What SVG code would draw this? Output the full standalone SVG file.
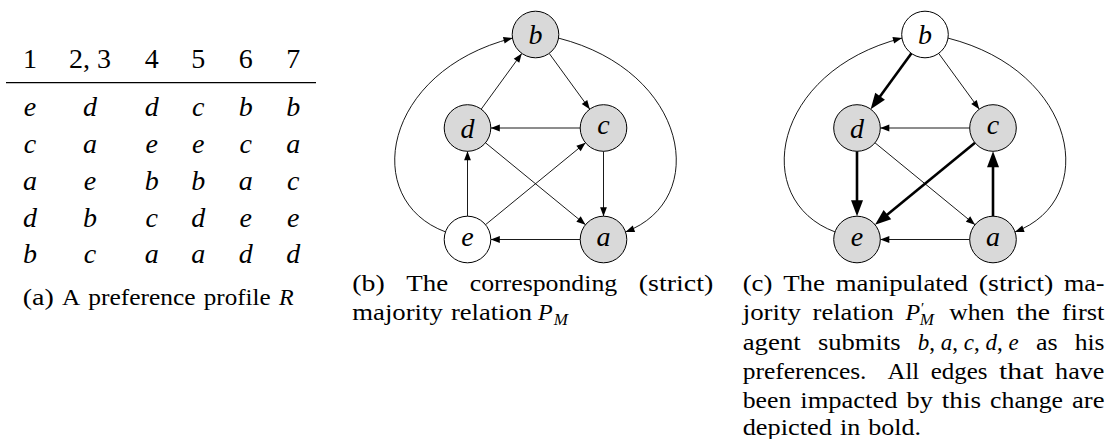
<svg xmlns="http://www.w3.org/2000/svg" width="1106" height="439" viewBox="0 0 1106 439">
<style>
.t{font-family:"Liberation Serif",serif;font-size:24px;fill:#000}
.m{font-style:italic}
.tab{font-family:"Liberation Serif",serif;font-size:28px;text-anchor:middle;fill:#000}
.nc{stroke:#000;stroke-width:1}
.g{fill:#d9d9d9}
.w{fill:#fff}
.lbl{font-family:"Liberation Serif",serif;font-style:italic;font-size:28px;text-anchor:middle;fill:#000}
.e{fill:none;stroke:#000;stroke-width:0.9;marker-end:url(#ah)}
.eb{fill:none;stroke:#000;stroke-width:2.6;marker-end:url(#ahb)}
</style>
<defs>
<marker id="ah" markerUnits="userSpaceOnUse" orient="auto" refX="0" refY="0" markerWidth="20" markerHeight="20" overflow="visible"><path d="M-9,-3.4 L0,0 L-9,3.4 z" fill="#000"/></marker>
<marker id="ahb" markerUnits="userSpaceOnUse" orient="auto" refX="0" refY="0" markerWidth="30" markerHeight="30" overflow="visible"><path d="M-11,-6 L5,0 L-11,6 z" fill="#000"/></marker>
</defs>

<g id="table">
<g class="tab">
<text x="30" y="68.3">1</text><text x="90" y="68.3">2, 3</text><text x="151.7" y="68.3">4</text><text x="198.3" y="68.3">5</text><text x="245.7" y="68.3">6</text><text x="293.3" y="68.3">7</text>
</g>
<line x1="6" y1="82.7" x2="316" y2="82.7" stroke="#000" stroke-width="1.3"/>
<g class="tab m">
<text x="30" y="116">e</text><text x="90" y="116">d</text><text x="151.7" y="116">d</text><text x="198.3" y="116">c</text><text x="245.7" y="116">b</text><text x="293.3" y="116">b</text>
<text x="30" y="153">c</text><text x="90" y="153">a</text><text x="151.7" y="153">e</text><text x="198.3" y="153">e</text><text x="245.7" y="153">c</text><text x="293.3" y="153">a</text>
<text x="30" y="190">a</text><text x="90" y="190">e</text><text x="151.7" y="190">b</text><text x="198.3" y="190">b</text><text x="245.7" y="190">a</text><text x="293.3" y="190">c</text>
<text x="30" y="226.7">d</text><text x="90" y="226.7">b</text><text x="151.7" y="226.7">c</text><text x="198.3" y="226.7">d</text><text x="245.7" y="226.7">e</text><text x="293.3" y="226.7">e</text>
<text x="30" y="262.7">b</text><text x="90" y="262.7">c</text><text x="151.7" y="262.7">a</text><text x="198.3" y="262.7">a</text><text x="245.7" y="262.7">d</text><text x="293.3" y="262.7">d</text>
</g>
</g>

<g id="caption-a" class="t">
<text x="22.7" y="305" textLength="31.1" lengthAdjust="spacingAndGlyphs">(a)</text>
<text x="61.9" y="305" textLength="18.2" lengthAdjust="spacingAndGlyphs">A</text>
<text x="88.2" y="305" textLength="107.5" lengthAdjust="spacingAndGlyphs">preference</text>
<text x="203.8" y="305" textLength="66.9" lengthAdjust="spacingAndGlyphs">profile</text>
<text x="279" y="305" class="m">R</text>
</g>

<!-- Graph (b) -->
<g id="edges-b">
<path class="e" d="M445.5,231.9 C360,200 382.5,71.1 512.5,38.1"/>
<path class="e" d="M558.5,38.1 C688.5,71.1 711,200 625.5,231.9"/>
<path class="e" d="M481.2,109.2 L521.8,53.4"/>
<path class="e" d="M549.2,53.4 L589.8,109.2"/>
<path class="e" d="M580.2,128 L490.8,128"/>
<path class="e" d="M603.5,151.3 L603.5,216.2"/>
<path class="e" d="M485.5,142.8 L585.5,224.7"/>
<path class="e" d="M485.5,224.7 L585.5,142.8"/>
<path class="e" d="M467.5,216.2 L467.5,151.3"/>
<path class="e" d="M580.2,239.5 L490.8,239.5"/>
</g>
<g id="b-b"><circle class="nc g" cx="535.5" cy="34.5" r="23.3"/><text class="lbl" x="535.5" y="44">b</text></g>
<g id="b-d"><circle class="nc g" cx="467.5" cy="128" r="23.3"/><text class="lbl" x="467.5" y="137.5">d</text></g>
<g id="b-c"><circle class="nc g" cx="603.5" cy="128" r="23.3"/><text class="lbl" x="603.5" y="134">c</text></g>
<g id="b-e"><circle class="nc w" cx="467.5" cy="239.5" r="23.3"/><text class="lbl" x="467.5" y="245.5">e</text></g>
<g id="b-a"><circle class="nc g" cx="603.5" cy="239.5" r="23.3"/><text class="lbl" x="603.5" y="245.5">a</text></g>

<g id="caption-b" class="t">
<text x="352.3" y="291" textLength="32.4" lengthAdjust="spacingAndGlyphs">(b)</text>
<text x="406.3" y="291" textLength="41.8" lengthAdjust="spacingAndGlyphs">The</text>
<text x="469.7" y="291" textLength="147.5" lengthAdjust="spacingAndGlyphs">corresponding</text>
<text x="638.8" y="291" textLength="74.5" lengthAdjust="spacingAndGlyphs">(strict)</text>
<text x="352.3" y="320.3" textLength="90.5" lengthAdjust="spacingAndGlyphs">majority</text>
<text x="450.9" y="320.3" textLength="81.1" lengthAdjust="spacingAndGlyphs">relation</text>
<text x="538" y="320.3"><tspan class="m">P</tspan><tspan class="m" font-size="17" dx="1" dy="4.5">M</tspan></text>
</g>

<!-- Graph (c) -->
<g id="edges-c">
<path class="e" d="M835,231.9 C749.5,200 772,71.1 902,38.1"/>
<path class="e" d="M948,38.1 C1078,71.1 1100.5,200 1015,231.9"/>
<path class="eb" d="M911.3,53.4 L873.6,105.2"/>
<path class="e" d="M938.7,53.4 L979.3,109.2"/>
<path class="e" d="M969.7,128 L880.3,128"/>
<path class="eb" d="M857,151.3 L857,211.2"/>
<path class="eb" d="M975,142.8 L878.9,221.5"/>
<path class="eb" d="M993,216.2 L993,156.3"/>
<path class="e" d="M875,142.8 L975,224.7"/>
<path class="e" d="M969.7,239.5 L880.3,239.5"/>
</g>
<g id="c-b"><circle class="nc w" cx="925" cy="34.5" r="23.3"/><text class="lbl" x="925" y="44">b</text></g>
<g id="c-d"><circle class="nc g" cx="857" cy="128" r="23.3"/><text class="lbl" x="857" y="137.5">d</text></g>
<g id="c-c"><circle class="nc g" cx="993" cy="128" r="23.3"/><text class="lbl" x="993" y="134">c</text></g>
<g id="c-e"><circle class="nc g" cx="857" cy="239.5" r="23.3"/><text class="lbl" x="857" y="245.5">e</text></g>
<g id="c-a"><circle class="nc g" cx="993" cy="239.5" r="23.3"/><text class="lbl" x="993" y="245.5">a</text></g>

<g id="caption-c" class="t">
<text x="742.7" y="291" textLength="29.7" lengthAdjust="spacingAndGlyphs">(c)</text>
<text x="783.2" y="291" textLength="41.8" lengthAdjust="spacingAndGlyphs">The</text>
<text x="835.7" y="291" textLength="132.3" lengthAdjust="spacingAndGlyphs">manipulated</text>
<text x="978.8" y="291" textLength="74.5" lengthAdjust="spacingAndGlyphs">(strict)</text>
<text x="1064" y="291" textLength="40.5" lengthAdjust="spacingAndGlyphs">ma-</text>

<text x="742.7" y="320.3" textLength="58.2" lengthAdjust="spacingAndGlyphs">jority</text>
<text x="812.6" y="320.3" textLength="81.1" lengthAdjust="spacingAndGlyphs">relation</text>
<text x="905.4" y="320.3"><tspan class="m">P</tspan><tspan font-size="15" dx="1" dy="-7">′</tspan><tspan class="m" font-size="17" dx="-4.5" dy="11.5">M</tspan></text>
<text x="949.2" y="320.3" textLength="55.4" lengthAdjust="spacingAndGlyphs">when</text>
<text x="1016.3" y="320.3" textLength="33.8" lengthAdjust="spacingAndGlyphs">the</text>
<text x="1061.8" y="320.3" textLength="42.7" lengthAdjust="spacingAndGlyphs">first</text>

<text x="742.7" y="349.6" textLength="58.1" lengthAdjust="spacingAndGlyphs">agent</text>
<text x="818" y="349.6" textLength="82.6" lengthAdjust="spacingAndGlyphs">submits</text>
<text x="917.7" y="349.6" textLength="101" lengthAdjust="spacingAndGlyphs"><tspan class="m">b</tspan>, <tspan class="m">a</tspan>, <tspan class="m">c</tspan>, <tspan class="m">d</tspan>, <tspan class="m">e</tspan></text>
<text x="1035.9" y="349.6" textLength="21.7" lengthAdjust="spacingAndGlyphs">as</text>
<text x="1074.7" y="349.6" textLength="29.8" lengthAdjust="spacingAndGlyphs">his</text>

<text x="742.7" y="378.9" textLength="123.8" lengthAdjust="spacingAndGlyphs">preferences.</text>
<text x="887.5" y="378.9" textLength="31.7" lengthAdjust="spacingAndGlyphs">All</text>
<text x="930.7" y="378.9" textLength="56.8" lengthAdjust="spacingAndGlyphs">edges</text>
<text x="999" y="378.9" textLength="44.6" lengthAdjust="spacingAndGlyphs">that</text>
<text x="1055.1" y="378.9" textLength="49.3" lengthAdjust="spacingAndGlyphs">have</text>

<text x="742.7" y="408.2" textLength="48.6" lengthAdjust="spacingAndGlyphs">been</text>
<text x="800.3" y="408.2" textLength="97.2" lengthAdjust="spacingAndGlyphs">impacted</text>
<text x="906.5" y="408.2" textLength="26.3" lengthAdjust="spacingAndGlyphs">by</text>
<text x="941.8" y="408.2" textLength="39.3" lengthAdjust="spacingAndGlyphs">this</text>
<text x="990.1" y="408.2" textLength="72.9" lengthAdjust="spacingAndGlyphs">change</text>
<text x="1072" y="408.2" textLength="32.5" lengthAdjust="spacingAndGlyphs">are</text>

<text x="742.7" y="435" textLength="89.1" lengthAdjust="spacingAndGlyphs">depicted</text>
<text x="839.9" y="435" textLength="20.3" lengthAdjust="spacingAndGlyphs">in</text>
<text x="868.3" y="435" textLength="52.7" lengthAdjust="spacingAndGlyphs">bold.</text>
</g>
</svg>
